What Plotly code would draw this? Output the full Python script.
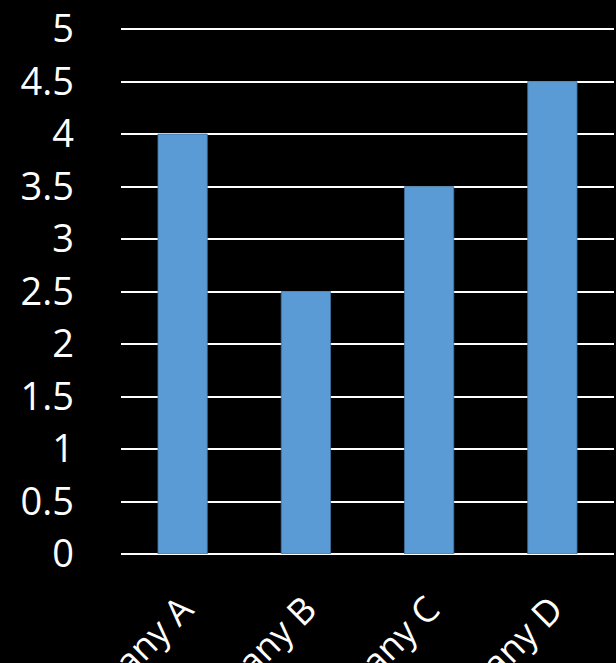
import plotly.graph_objects as go

categories = ["Company A", "Company B", "Company C", "Company D"]
values = [4, 2.5, 3.5, 4.5]
y_ticks = [0, 0.5, 1, 1.5, 2, 2.5, 3, 3.5, 4, 4.5, 5]
y_labels = ["0", "0.5", "1", "1.5", "2", "2.5", "3", "3.5", "4", "4.5", "5"]

fig = go.Figure(go.Bar(
    x=categories, y=values,
    marker=dict(color="#5B9BD5", line=dict(color="#41719C", width=0.8)),
    width=0.4,
))

fig.update_layout(
    width=616, height=663,
    paper_bgcolor="black", plot_bgcolor="black",
    margin=dict(l=121, r=2, t=27, b=109),
    font=dict(family="Open Sans", color="white", size=38),
    showlegend=False,
)
fig.update_yaxes(
    range=[0, 5.02], tickvals=y_ticks, ticktext=y_labels,
    showgrid=True, gridcolor="white", gridwidth=1.5,
    zeroline=True, zerolinecolor="white", zerolinewidth=2,
    ticklabelstandoff=46, tickfont=dict(size=38, color="white"),
    automargin=False,
)
fig.update_xaxes(
    tickangle=-45, tickfont=dict(size=36, color="white"),
    showgrid=False, automargin=False, ticklabelstandoff=26,
)

fig.write_html("out.html")
